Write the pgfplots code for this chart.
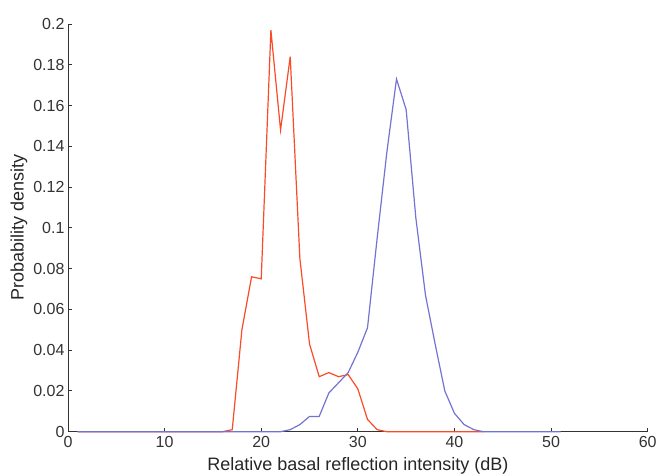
\documentclass[border=0pt]{standalone}
\usepackage{fontspec}
\setmainfont{Liberation Sans}
\usepackage{pgfplots}
\pgfplotsset{compat=1.18}
\definecolor{redc}{RGB}{250,75,40}
\definecolor{bluec}{RGB}{115,115,210}
\begin{document}
\begin{tikzpicture}
\begin{axis}[
  at={(0,0)}, anchor=south west,
  scale only axis, width=579.7pt, height=407.7pt,
  xmin=0, xmax=60, ymin=0, ymax=0.2,
  axis lines*=left,
  axis line style={black!80, line width=0.9pt},
  tick align=inside,
  major tick length=4pt,
  tick style={black!80, line width=0.9pt},
  xtick={0,10,...,60},
  ytick={0,0.02,...,0.2},
  yticklabels={0,0.02,0.04,0.06,0.08,0.1,0.12,0.14,0.16,0.18,0.2},
  xticklabel style={font=\fontsize{16}{16}\selectfont, text=black!80, yshift=-1pt},
  yticklabel style={font=\fontsize{16}{16}\selectfont, text=black!80},
  /pgf/number format/assume math mode=true,
  xlabel={Relative basal reflection intensity (dB)},
  ylabel={Probability density},
  label style={font=\fontsize{18}{18}\selectfont, text=black!85},
  xlabel style={yshift=-3pt},
  ylabel style={yshift=-1pt},
  clip=false,
]
\addplot[redc, line width=1.2pt] coordinates {
(1,0) (16,0) (17,0.001) (18,0.05) (19,0.076) (20,0.075) (21,0.197) (22,0.148) (23,0.184) (24,0.085) (25,0.043) (26,0.027) (27,0.029) (28,0.027) (29,0.028) (30,0.021) (31,0.006) (32,0.001) (33,0) (43,0)
};
\addplot[bluec, line width=1.2pt] coordinates {
(1,0) (22,0) (23,0.001) (24,0.0035) (25,0.0075) (26,0.0075) (27,0.019) (28,0.024) (29,0.029) (30,0.039) (31,0.051) (32,0.095) (33,0.137) (34,0.173) (35,0.158) (36,0.105) (37,0.067) (38,0.043) (39,0.020) (40,0.009) (41,0.0035) (42,0.001) (43,0) (51,0)
};
\end{axis}
\pgfresetboundingbox
\useasboundingbox (-68pt,-43.3pt) rectangle (588pt,431.7pt);
\end{tikzpicture}
\end{document}
